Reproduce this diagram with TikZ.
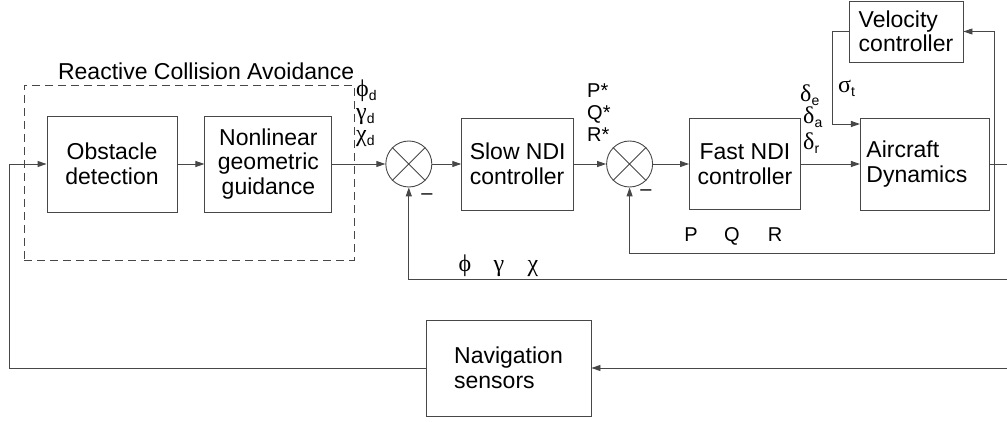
\documentclass[tikz,border=0pt]{standalone}
\usepackage{fontspec}
\setmainfont{Liberation Sans}
\newfontfamily\greekfont[Scale=1.2]{Liberation Serif}
\usetikzlibrary{arrows.meta, positioning, fit, backgrounds, calc}
\colorlet{linegray}{black!72}
\newcommand{\gsym}[2]{{\greekfont #1}\textsubscript{#2}}

\begin{document}
\begin{tikzpicture}[
        x=1pt, y=-1pt,
        % Styles for the blocks and lines
        block/.style={
            rectangle,
            draw=linegray,
            line width=0.9pt,
            inner sep=0pt,
            align=center,
            font=\fontsize{23}{24.5}\selectfont
        },
        sumj/.style={
            circle,
            draw=linegray,
            line width=0.9pt,
            minimum size=46pt,
            inner sep=0pt
        },
        group/.style={
            draw=linegray,
            line width=0.9pt,
            dash pattern=on 8pt off 5pt,
            inner sep=0pt
        },
        arrow/.style={
            -{Triangle[length=9pt, width=6pt]},
            draw=linegray,
            line width=0.9pt
        },
        wire/.style={
            draw=linegray,
            line width=0.9pt
        },
        sig/.style={
            inner sep=0pt,
            anchor=base west,
            font=\fontsize{20}{22}\selectfont
        }
    ]
    \useasboundingbox (0,0) rectangle (1007,422);

    % --- 1. BLOCKS ---

    % Collision avoidance part
    \node[block, minimum width=130pt, minimum height=96pt] (obs) at (112,164) {Obstacle\\detection};
    \node[block, minimum width=127pt, minimum height=96pt, right=27pt of obs] (guide) {Nonlinear\\geometric\\guidance};

    % Outer loop
    \node[sumj, right=53pt of guide] (sum1) {};
    \node[block, minimum width=112pt, minimum height=92pt, align=left, right=29pt of sum1] (slow) {Slow NDI\\controller};

    % Inner loop
    \node[sumj, right=32pt of slow] (sum2) {};
    \node[block, minimum width=111pt, minimum height=91pt, right=36pt of sum2] (fast) {Fast NDI\\controller};

    % Plant and velocity loop
    \node[block, text width=117pt, inner xsep=6pt, minimum height=92pt, align=left, right=59pt of fast] (air) {Aircraft\\Dynamics};
    \node[block, minimum width=114pt, minimum height=61pt, align=left] (vel) at (906,31.5) {Velocity\\controller};

    % Sensors
    \node[block, minimum width=165pt, minimum height=96pt, align=left] (nav) at (508.5,368) {Navigation\\sensors};

    % crosses in the summing junctions
    \draw[wire] (sum1.north west) -- (sum1.south east) (sum1.north east) -- (sum1.south west);
    \draw[wire] (sum2.north west) -- (sum2.south east) (sum2.north east) -- (sum2.south west);

    % --- 2. CONNECTORS ---
    \coordinate (lft) at (9,368);
    \coordinate (jn) at (994,164);
    \coordinate (outr) at (1007,164);
    \coordinate (pqrlow) at (0,253);
    \coordinate (fbphi) at (1007,279);
    \coordinate (fbnav) at (1007,368);

    % forward path
    \draw[arrow] (obs) -- (guide);
    \draw[arrow] (guide) -- (sum1);
    \draw[arrow] (sum1) -- (slow);
    \draw[arrow] (slow) -- (sum2);
    \draw[arrow] (sum2) -- (fast);
    \draw[arrow] (fast) -- (air);
    \draw[wire] (air) -- (outr);

    % velocity loop
    \draw[arrow] (jn) |- (vel);
    \draw[arrow] (vel.west) -- ++(-16,0) |- ([yshift=40pt]air.west);

    % feedback paths
    \draw[arrow] (jn) |- (pqrlow -| sum2) -- (sum2);
    \draw[arrow] (fbphi) -| (sum1);
    \draw[arrow] (fbnav) -- (nav);
    \draw[arrow] (nav.west) -- (lft) |- (obs.west);

    % --- 3. SIGNAL LABELS ---
    \node[sig] (phid) at (356,97) {\gsym{ϕ}{d}};
    \node[sig] (gamd) at (356,120) {\gsym{γ}{d}};
    \node[sig] (chid) at (356,142) {\gsym{χ}{d}};

    \node[sig] (pst) at (587,98) {P*};
    \node[sig] (qst) at (587,120) {Q*};
    \node[sig] (rst) at (587,142) {R*};

    \node[sig] (de) at (800,102) {\gsym{δ}{e}};
    \node[sig] (da) at (803,124) {\gsym{δ}{a}};
    \node[sig] (dr) at (803,150) {\gsym{δ}{r}};
    \node[sig] (sgt) at (838,93) {\gsym{σ}{t}};

    \node[sig, anchor=center] (min1) at (427,197) {–};
    \node[sig, anchor=center] (min2) at (646,193) {–};

    \node[sig, anchor=base] (pfb) at (691,242) {P};
    \node[sig, anchor=base] (qfb) at (732,242) {Q};
    \node[sig, anchor=base] (rfb) at (775,242) {R};

    \node[sig, anchor=base] (phifb) at (465,272) {\greekfont ϕ};
    \node[sig, anchor=base] (gamfb) at (499,272) {\greekfont γ};
    \node[sig, anchor=base] (chifb) at (533,272) {\greekfont χ};

    % --- 4. GROUP FRAME (BACKGROUND LAYER) ---
    \begin{scope}[on background layer]
        \coordinate (rcaA) at (24,85);
        \coordinate (rcaB) at (354,260);
        \node[group, fit=(rcaA) (rcaB)] (rca) {};
    \end{scope}
    \node[inner sep=0pt, anchor=base east, font=\fontsize{23}{24}\selectfont] (rcalbl) at ([yshift=5pt]rca.north east) {Reactive Collision Avoidance};

\end{tikzpicture}
\end{document}
